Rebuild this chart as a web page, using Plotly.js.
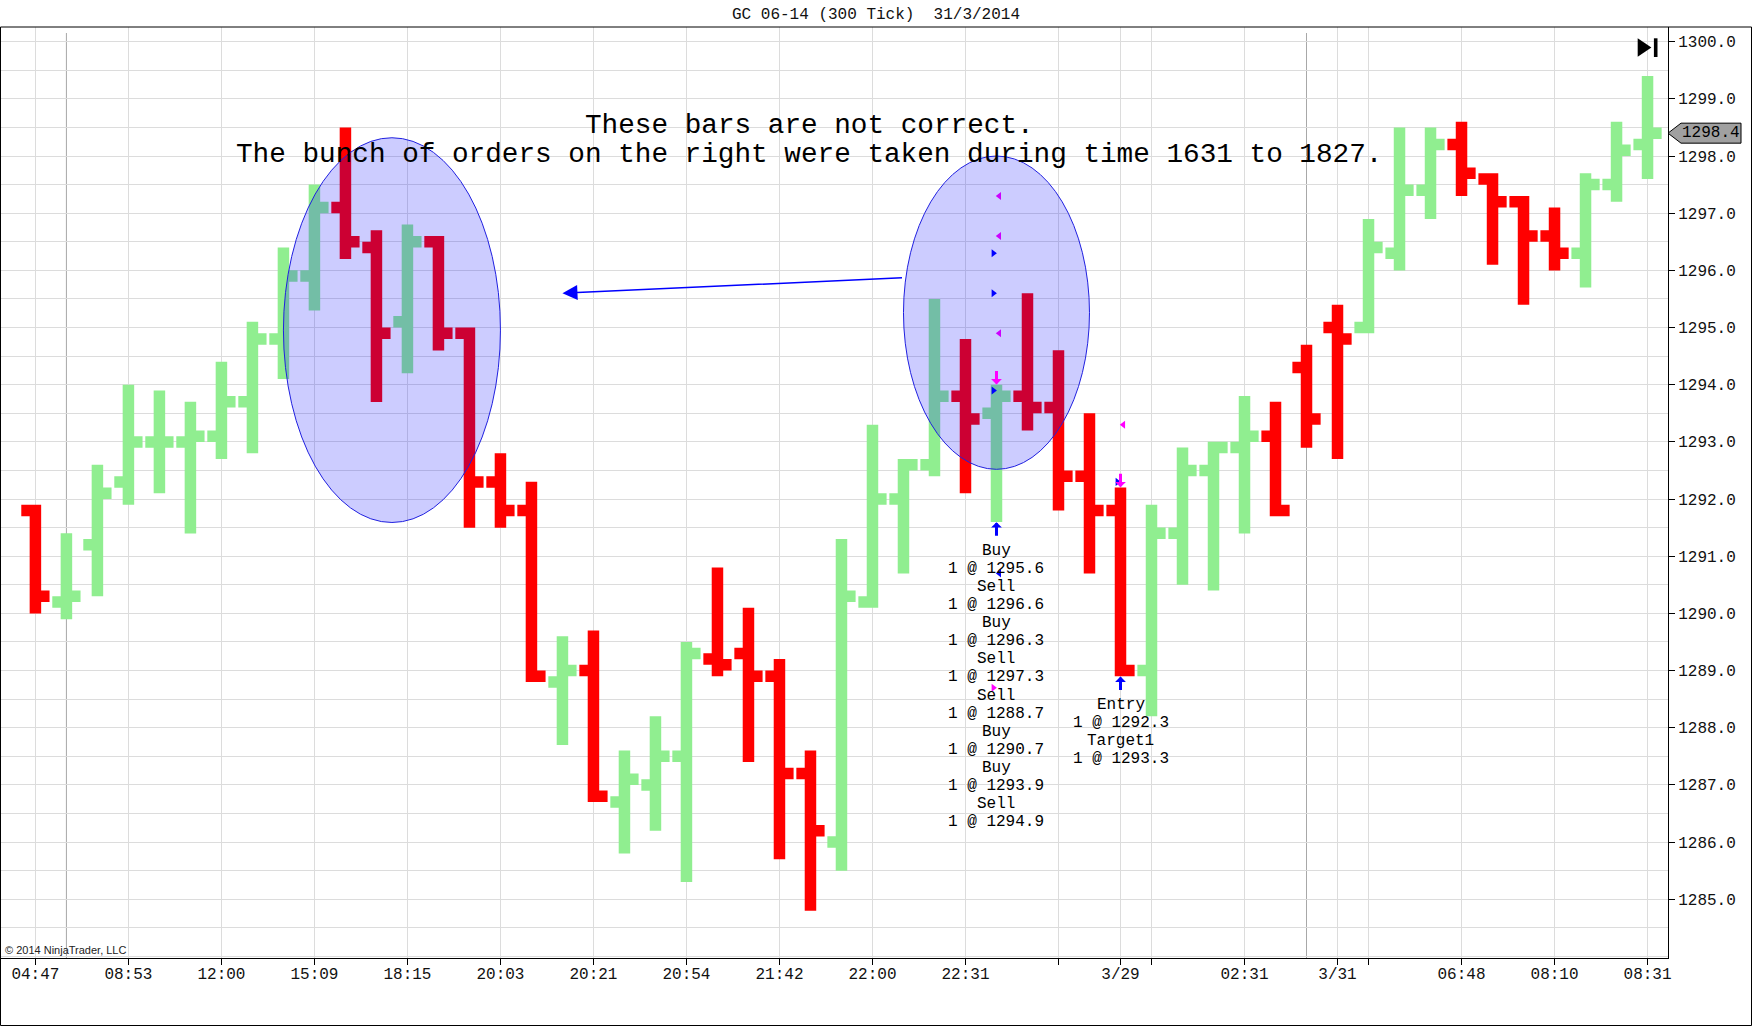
<!DOCTYPE html>
<html>
<head>
<meta charset="utf-8">
<script src="https://cdn.plot.ly/plotly-3.0.1.min.js"></script>
<style>
  html, body { margin: 0; padding: 0; background: #ffffff; }
  #chart { width: 1752px; height: 1026px; }
  .ohlc path { stroke-linecap: square; }
</style>
</head>
<body>
<div id="chart"></div>
<script>
// ---------- DATA ----------
const open  = [1291.8,1290.2,1291.2,1292.3,1293.0,1293.0,1293.1,1293.7,1294.8,1295.9,
               1297.1,1296.4,1295.1,1296.5,1294.9,1292.3,1291.8,1288.8,1289.0,1286.7,
               1287.0,1287.5,1289.2,1289.3,1288.9,1287.2,1286.0,1290.2,1292.0,1292.6,
               1293.8,1293.5,1293.8,1293.6,1292.4,1291.8,1289.0,1291.4,1292.5,1292.9,
               1293.1,1294.3,1295.0,1295.0,1296.3,1297.4,1298.2,1297.6,1297.2,1296.6,
               1296.3,1297.5,1298.2];
const high  = [1291.8,1291.3,1292.5,1293.9,1293.8,1293.6,1294.3,1295.0,1296.3,1297.4,
               1298.4,1296.6,1296.7,1296.5,1294.9,1292.7,1292.2,1289.5,1289.6,1287.5,
               1288.1,1289.4,1290.7,1290.0,1289.1,1287.5,1291.2,1293.2,1292.6,1295.4,
               1294.7,1293.9,1295.5,1294.5,1293.4,1292.1,1291.8,1292.8,1292.9,1293.7,
               1293.6,1294.6,1295.3,1296.8,1298.4,1298.4,1298.5,1297.6,1297.2,1297.0,
               1297.6,1298.5,1299.3];
const low   = [1290.1,1290.0,1290.4,1292.0,1292.2,1291.5,1292.8,1292.9,1294.2,1295.4,
               1296.3,1293.8,1294.3,1294.7,1291.6,1291.6,1288.9,1287.8,1286.8,1285.9,
               1286.3,1285.4,1289.0,1287.5,1285.8,1284.9,1285.6,1290.2,1290.8,1292.5,
               1292.2,1291.7,1293.3,1291.9,1290.8,1289.0,1288.3,1290.6,1290.5,1291.5,
               1291.8,1293.0,1292.8,1295.0,1296.1,1297.0,1297.4,1296.2,1295.5,1296.1,
               1295.8,1297.3,1297.7];
const close = [1290.3,1290.3,1292.1,1293.0,1293.0,1293.1,1293.7,1294.8,1295.9,1297.1,
               1296.5,1294.9,1296.5,1294.9,1292.3,1291.8,1288.9,1289.0,1286.8,1287.1,
               1287.5,1289.3,1289.1,1288.9,1287.2,1286.2,1290.3,1292.0,1292.6,1293.8,
               1293.4,1293.8,1293.6,1292.4,1291.8,1289.0,1291.4,1292.5,1292.9,1293.1,
               1291.8,1293.4,1294.8,1296.4,1297.4,1298.2,1297.7,1297.2,1296.6,1296.3,
               1297.5,1298.1,1298.4];

// x-axis (bar number) ticks and their labels
const tickBars   = [0, 3, 6, 9, 12, 15, 18, 21, 24, 27, 30, 33, 35, 36, 39, 42, 43, 46, 49, 52];
const tickLabels = ['04:47','08:53','12:00','15:09','18:15','20:03','20:21','20:54','21:42','22:00',
                    '22:31','','3/29','','02:31','3/31','','06:48','08:10','08:31'];
const sessionBreakBars = [1, 41];

// price-axis labels
const priceTicks = [1285, 1286, 1287, 1288, 1289, 1290, 1291, 1292,
                    1293, 1294, 1295, 1296, 1297, 1298, 1299, 1300];

// executions drawn on the chart
const execBar   = [31, 31, 31, 31, 31, 31, 31, 31, 35, 35];
const execName  = ['Buy','Sell','Buy','Sell','Sell','Buy','Buy','Sell','Entry','Target1'];
const execSide  = ['buy','sell','buy','sell','sell','buy','buy','sell','buy','sell'];
const execRole  = ['entry','exit','entry','exit','entry','exit','entry','exit','entry','exit'];
const execQty   = [1, 1, 1, 1, 1, 1, 1, 1, 1, 1];
const execPrice = [1295.6, 1296.6, 1296.3, 1297.3, 1288.7, 1290.7, 1293.9, 1294.9, 1292.3, 1293.3];
const signalUpBars   = [31, 35];
const signalDownBars = [31, 35];

const chartTitle = 'GC 06-14 (300 Tick)\u00a0\u00a031/3/2014';
const noteLine1 = 'These bars are not correct.';
const noteLine2 = 'The bunch of orders on the right were taken during time 1631 to 1827.';

// ---------- LAYOUT GEOMETRY ----------
const W = 1752, H = 1026;
const M = { l: 1, r: 84, t: 27, b: 68 };
const PW = W - M.l - M.r, PH = H - M.t - M.b;
const pxX = px => (px - M.l) / PW;          // figure pixel -> paper x
const pxY = py => 1 - (py - M.t) / PH;      // figure pixel -> paper y

const MONO = 'Liberation Mono, Courier New, monospace';
const barIndex = open.map((_, i) => i);
const GREEN = '#90EE90', RED = '#FF0000', BLUE = '#0000FF', MAGENTA = '#FF00FF';
const GRID = '#DCDCDC';

const traces = [
  {
    type: 'ohlc', x: barIndex, open: open, high: high, low: low, close: close,
    increasing: { line: { color: GREEN, width: 11.5 } },
    decreasing: { line: { color: RED, width: 11.5 } },
    tickwidth: 0.27, hoverinfo: 'skip', showlegend: false
  },
  {
    type: 'scatter', mode: 'markers', hoverinfo: 'skip', showlegend: false,
    x: execBar.map((b, i) => b + (execRole[i] === 'entry' ? -0.1 : 0.09)),
    y: execPrice,
    marker: {
      symbol: execRole.map(r => r === 'entry' ? 'triangle-right' : 'triangle-left'),
      color: execSide.map(s => s === 'buy' ? BLUE : MAGENTA),
      size: 7, line: { width: 0 }
    }
  }
];

const shapes = [];
// session break lines
sessionBreakBars.forEach(b => shapes.push({
  type: 'line', xref: 'x', yref: 'paper', x0: b, x1: b, y0: 0, y1: pxY(33),
  line: { color: '#A8A8A8', width: 1 }, layer: 'below'
}));
// highlight ellipses
shapes.push({
  type: 'circle', xref: 'x', yref: 'y', x0: 8.0, x1: 15.0, y0: 1291.59, y1: 1298.32,
  fillcolor: 'rgba(0,0,255,0.2)', line: { color: '#2020E0', width: 1 }, layer: 'above'
});
shapes.push({
  type: 'circle', xref: 'x', yref: 'y', x0: 28.0, x1: 34.0, y0: 1292.52, y1: 1298.0,
  fillcolor: 'rgba(0,0,255,0.2)', line: { color: '#2020E0', width: 1 }, layer: 'above'
});
// last price marker on the price axis
const lastClose = close[close.length - 1];
shapes.push({
  type: 'path', xref: 'paper', xsizemode: 'pixel', xanchor: 1,
  yref: 'y', ysizemode: 'pixel', yanchor: lastClose,
  path: 'M0,0 L13,10 H73 V-10 H13 Z',
  fillcolor: '#A0A0A0', line: { color: '#000000', width: 1 }, layer: 'above'
});
// "scroll to end" icon
shapes.push({
  type: 'path', xref: 'paper', xsizemode: 'pixel', xanchor: 1,
  yref: 'paper', ysizemode: 'pixel', yanchor: 1,
  path: 'M-30.3,-11.3 L-16.6,-20.5 L-30.3,-29.7 Z',
  fillcolor: '#000000', line: { width: 0 }, layer: 'above'
});
shapes.push({
  type: 'path', xref: 'paper', xsizemode: 'pixel', xanchor: 1,
  yref: 'paper', ysizemode: 'pixel', yanchor: 1,
  path: 'M-14.1,-11.3 H-10.5 V-30 H-14.1 Z',
  fillcolor: '#000000', line: { width: 0 }, layer: 'above'
});
// outer frame
shapes.push({
  type: 'rect', xref: 'paper', yref: 'paper',
  x0: pxX(0.5), x1: pxX(1751.5), y0: pxY(1025.5), y1: pxY(27),
  line: { color: '#000000', width: 1 }, fillcolor: 'rgba(0,0,0,0)', layer: 'above'
});

const annotations = [];
annotations.push({
  xref: 'paper', yref: 'paper', x: pxX(809), y: pxY(125), xanchor: 'center', yanchor: 'middle',
  text: noteLine1, showarrow: false, font: { family: MONO, size: 27.7, color: '#000' }
});
annotations.push({
  xref: 'paper', yref: 'paper', x: pxX(809), y: pxY(154.5), xanchor: 'center', yanchor: 'middle',
  text: noteLine2, showarrow: false, font: { family: MONO, size: 27.7, color: '#000' }
});
// arrow from right ellipse to left ellipse
annotations.push({
  xref: 'x', yref: 'y', x: 17.0, y: 1295.6, axref: 'x', ayref: 'y', ax: 28.0, ay: 1295.87,
  text: '', showarrow: true, arrowhead: 2, arrowsize: 2, arrowwidth: 1.5, arrowcolor: BLUE
});
// signal arrows
signalUpBars.forEach(b => annotations.push({
  xref: 'x', yref: 'y', x: b, y: low[b], ax: 0, ay: 21, standoff: 6, text: '',
  showarrow: true, arrowhead: 1, arrowsize: 0.6, arrowwidth: 3, arrowcolor: BLUE
}));
signalDownBars.forEach(b => annotations.push({
  xref: 'x', yref: 'y', x: b, y: high[b], ax: 0, ay: -21, standoff: 6, text: '',
  showarrow: true, arrowhead: 1, arrowsize: 0.6, arrowwidth: 3, arrowcolor: MAGENTA
}));
// execution text stacks under the bars
[...new Set(execBar)].forEach(b => {
  const lines = [];
  execBar.forEach((eb, i) => {
    if (eb === b) {
      lines.push(execName[i]);
      lines.push(execQty[i] + ' @ ' + execPrice[i].toFixed(1));
    }
  });
  lines.forEach((t, k) => annotations.push({
    xref: 'x', yref: 'y', x: b, y: low[b], yshift: -(34.5 + k * 18.1),
    xanchor: 'center', yanchor: 'middle', text: t, showarrow: false,
    font: { family: MONO, size: 16, color: '#000' }
  }));
});
// last price label
annotations.push({
  xref: 'paper', yref: 'y', x: 1, y: lastClose, xanchor: 'center', yanchor: 'middle', xshift: 43,
  text: lastClose.toFixed(1), showarrow: false, font: { family: MONO, size: 16, color: '#000' }
});
// copyright
annotations.push({
  xref: 'paper', yref: 'paper', x: 0, y: 0, xanchor: 'left', yanchor: 'bottom', xshift: 2, yshift: 0,
  text: '\u00a9 2014 NinjaTrader, LLC', showarrow: false,
  font: { family: 'Liberation Sans, Arial, sans-serif', size: 11, color: '#222' }
});

const layout = {
  width: W, height: H, margin: M,
  paper_bgcolor: '#ffffff', plot_bgcolor: '#ffffff',
  showlegend: false, hovermode: false, dragmode: false,
  title: {
    text: chartTitle, xref: 'container', yref: 'container', x: 0.5, y: 1 - 13.5 / H,
    xanchor: 'center', yanchor: 'middle', font: { family: MONO, size: 16, color: '#111' }
  },
  xaxis: {
    range: [-1.11, 52.66], rangeslider: { visible: false },
    tickmode: 'array', tickvals: tickBars, ticktext: tickLabels, tickangle: 0,
    showgrid: true, gridcolor: GRID, gridwidth: 1, zeroline: false,
    showline: true, linecolor: '#000', linewidth: 1,
    ticks: 'outside', ticklen: 6, tickcolor: '#000', ticklabelstandoff: -5,
    tickfont: { family: MONO, size: 16, color: '#111' }, fixedrange: true
  },
  yaxis: {
    side: 'right', range: [1283.972, 1300.257],
    tickmode: 'array', tickvals: priceTicks, tickformat: '.1f',
    showgrid: true, gridcolor: GRID, gridwidth: 1, zeroline: false,
    minor: { tick0: 1285, dtick: 0.5, showgrid: true, gridcolor: GRID, gridwidth: 1, ticks: '' },
    showline: true, linecolor: '#000', linewidth: 1,
    ticks: 'outside', ticklen: 6, tickcolor: '#000',
    tickfont: { family: MONO, size: 16, color: '#111' }, fixedrange: true
  },
  shapes: shapes,
  annotations: annotations
};

Plotly.newPlot('chart', traces, layout, { staticPlot: true, displayModeBar: false });
</script>
</body>
</html>
